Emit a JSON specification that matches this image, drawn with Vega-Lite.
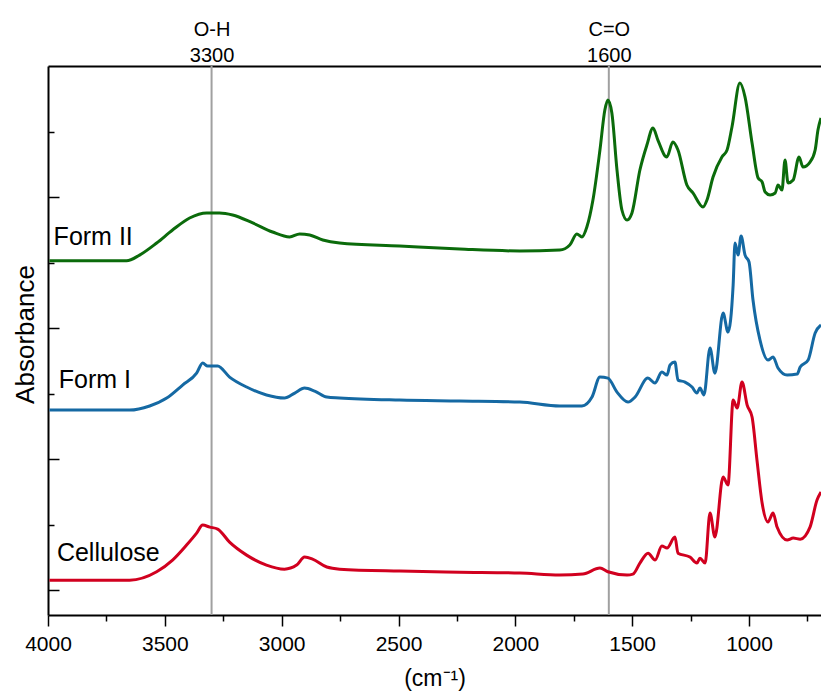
{
  "$schema": "https://vega.github.io/schema/vega-lite/v6.json",
  "width": 773,
  "height": 549,
  "autosize": "none",
  "padding": {"left": 48, "top": 66, "right": 0, "bottom": 76},
  "config": {
    "view": {"stroke": null},
    "font": "Liberation Sans",
    "axis": {"grid": false, "domainColor": "black", "domainWidth": 2, "tickColor": "black", "tickWidth": 1.5, "labelColor": "black", "titleColor": "black", "labelFont": "Liberation Sans", "titleFont": "Liberation Sans"}
  },
  "datasets": {
    "spectra": [
      {"wn": 3994, "a": 0.076, "s": "Cellulose"}, {"wn": 3800, "a": 0.076, "s": "Cellulose"}, {"wn": 3651, "a": 0.076, "s": "Cellulose"},
      {"wn": 3535, "a": 0.140, "s": "Cellulose"}, {"wn": 3467, "a": 0.229, "s": "Cellulose"}, {"wn": 3407, "a": 0.344, "s": "Cellulose"},
      {"wn": 3364, "a": 0.435, "s": "Cellulose"}, {"wn": 3338, "a": 0.496, "s": "Cellulose"}, {"wn": 3308, "a": 0.481, "s": "Cellulose"},
      {"wn": 3274, "a": 0.466, "s": "Cellulose"}, {"wn": 3223, "a": 0.366, "s": "Cellulose"}, {"wn": 3150, "a": 0.267, "s": "Cellulose"},
      {"wn": 3065, "a": 0.191, "s": "Cellulose"}, {"wn": 2988, "a": 0.160, "s": "Cellulose"}, {"wn": 2936, "a": 0.191, "s": "Cellulose"},
      {"wn": 2902, "a": 0.252, "s": "Cellulose"}, {"wn": 2868, "a": 0.237, "s": "Cellulose"}, {"wn": 2807, "a": 0.176, "s": "Cellulose"},
      {"wn": 2752, "a": 0.160, "s": "Cellulose"}, {"wn": 2495, "a": 0.145, "s": "Cellulose"}, {"wn": 2238, "a": 0.137, "s": "Cellulose"},
      {"wn": 1981, "a": 0.130, "s": "Cellulose"}, {"wn": 1810, "a": 0.115, "s": "Cellulose"}, {"wn": 1711, "a": 0.122, "s": "Cellulose"},
      {"wn": 1638, "a": 0.168, "s": "Cellulose"}, {"wn": 1604, "a": 0.140, "s": "Cellulose"}, {"wn": 1522, "a": 0.115, "s": "Cellulose"},
      {"wn": 1497, "a": 0.122, "s": "Cellulose"}, {"wn": 1467, "a": 0.206, "s": "Cellulose"}, {"wn": 1432, "a": 0.282, "s": "Cellulose"},
      {"wn": 1402, "a": 0.229, "s": "Cellulose"}, {"wn": 1373, "a": 0.336, "s": "Cellulose"}, {"wn": 1351, "a": 0.321, "s": "Cellulose"},
      {"wn": 1317, "a": 0.405, "s": "Cellulose"}, {"wn": 1304, "a": 0.282, "s": "Cellulose"}, {"wn": 1253, "a": 0.252, "s": "Cellulose"},
      {"wn": 1223, "a": 0.206, "s": "Cellulose"}, {"wn": 1210, "a": 0.244, "s": "Cellulose"}, {"wn": 1188, "a": 0.206, "s": "Cellulose"},
      {"wn": 1167, "a": 0.588, "s": "Cellulose"}, {"wn": 1146, "a": 0.405, "s": "Cellulose"}, {"wn": 1111, "a": 0.863, "s": "Cellulose"},
      {"wn": 1090, "a": 0.802, "s": "Cellulose"}, {"wn": 1068, "a": 1.450, "s": "Cellulose"}, {"wn": 1051, "a": 1.389, "s": "Cellulose"},
      {"wn": 1030, "a": 1.588, "s": "Cellulose"}, {"wn": 1008, "a": 1.412, "s": "Cellulose"}, {"wn": 987, "a": 1.321, "s": "Cellulose"},
      {"wn": 966, "a": 0.992, "s": "Cellulose"}, {"wn": 944, "a": 0.664, "s": "Cellulose"}, {"wn": 919, "a": 0.519, "s": "Cellulose"},
      {"wn": 897, "a": 0.588, "s": "Cellulose"}, {"wn": 880, "a": 0.481, "s": "Cellulose"}, {"wn": 837, "a": 0.382, "s": "Cellulose"},
      {"wn": 811, "a": 0.397, "s": "Cellulose"}, {"wn": 781, "a": 0.389, "s": "Cellulose"}, {"wn": 739, "a": 0.481, "s": "Cellulose"},
      {"wn": 709, "a": 0.687, "s": "Cellulose"}, {"wn": 692, "a": 0.748, "s": "Cellulose"},

      {"wn": 3994, "a": 1.374, "s": "Form I"}, {"wn": 3800, "a": 1.374, "s": "Form I"}, {"wn": 3651, "a": 1.374, "s": "Form I"},
      {"wn": 3565, "a": 1.405, "s": "Form I"}, {"wn": 3492, "a": 1.466, "s": "Form I"}, {"wn": 3424, "a": 1.565, "s": "Form I"},
      {"wn": 3364, "a": 1.656, "s": "Form I"}, {"wn": 3338, "a": 1.733, "s": "Form I"}, {"wn": 3317, "a": 1.710, "s": "Form I"},
      {"wn": 3274, "a": 1.710, "s": "Form I"}, {"wn": 3223, "a": 1.626, "s": "Form I"}, {"wn": 3150, "a": 1.550, "s": "Form I"},
      {"wn": 3065, "a": 1.489, "s": "Form I"}, {"wn": 2988, "a": 1.466, "s": "Form I"}, {"wn": 2944, "a": 1.504, "s": "Form I"},
      {"wn": 2902, "a": 1.542, "s": "Form I"}, {"wn": 2859, "a": 1.519, "s": "Form I"}, {"wn": 2807, "a": 1.473, "s": "Form I"},
      {"wn": 2752, "a": 1.466, "s": "Form I"}, {"wn": 2495, "a": 1.450, "s": "Form I"}, {"wn": 2238, "a": 1.443, "s": "Form I"},
      {"wn": 1981, "a": 1.435, "s": "Form I"}, {"wn": 1810, "a": 1.405, "s": "Form I"}, {"wn": 1715, "a": 1.405, "s": "Form I"},
      {"wn": 1672, "a": 1.473, "s": "Form I"}, {"wn": 1638, "a": 1.626, "s": "Form I"}, {"wn": 1604, "a": 1.618, "s": "Form I"},
      {"wn": 1565, "a": 1.511, "s": "Form I"}, {"wn": 1518, "a": 1.435, "s": "Form I"}, {"wn": 1488, "a": 1.473, "s": "Form I"},
      {"wn": 1433, "a": 1.618, "s": "Form I"}, {"wn": 1403, "a": 1.580, "s": "Form I"}, {"wn": 1373, "a": 1.664, "s": "Form I"},
      {"wn": 1351, "a": 1.641, "s": "Form I"}, {"wn": 1338, "a": 1.718, "s": "Form I"}, {"wn": 1317, "a": 1.740, "s": "Form I"},
      {"wn": 1304, "a": 1.603, "s": "Form I"}, {"wn": 1274, "a": 1.588, "s": "Form I"}, {"wn": 1244, "a": 1.550, "s": "Form I"},
      {"wn": 1223, "a": 1.504, "s": "Form I"}, {"wn": 1210, "a": 1.542, "s": "Form I"}, {"wn": 1193, "a": 1.489, "s": "Form I"},
      {"wn": 1167, "a": 1.847, "s": "Form I"}, {"wn": 1146, "a": 1.656, "s": "Form I"}, {"wn": 1111, "a": 2.115, "s": "Form I"},
      {"wn": 1090, "a": 1.969, "s": "Form I"}, {"wn": 1068, "a": 2.328, "s": "Form I"}, {"wn": 1060, "a": 2.649, "s": "Form I"},
      {"wn": 1047, "a": 2.557, "s": "Form I"}, {"wn": 1034, "a": 2.702, "s": "Form I"}, {"wn": 1017, "a": 2.557, "s": "Form I"},
      {"wn": 1000, "a": 2.504, "s": "Form I"}, {"wn": 983, "a": 2.214, "s": "Form I"}, {"wn": 953, "a": 1.908, "s": "Form I"},
      {"wn": 919, "a": 1.756, "s": "Form I"}, {"wn": 897, "a": 1.779, "s": "Form I"}, {"wn": 876, "a": 1.695, "s": "Form I"},
      {"wn": 837, "a": 1.641, "s": "Form I"}, {"wn": 794, "a": 1.649, "s": "Form I"}, {"wn": 781, "a": 1.702, "s": "Form I"},
      {"wn": 747, "a": 1.756, "s": "Form I"}, {"wn": 717, "a": 1.962, "s": "Form I"}, {"wn": 692, "a": 2.023, "s": "Form I"},

      {"wn": 3994, "a": 2.514, "s": "Form II"}, {"wn": 3800, "a": 2.514, "s": "Form II"}, {"wn": 3664, "a": 2.514, "s": "Form II"},
      {"wn": 3608, "a": 2.557, "s": "Form II"}, {"wn": 3535, "a": 2.649, "s": "Form II"}, {"wn": 3467, "a": 2.748, "s": "Form II"},
      {"wn": 3394, "a": 2.840, "s": "Form II"}, {"wn": 3321, "a": 2.878, "s": "Form II"}, {"wn": 3266, "a": 2.878, "s": "Form II"},
      {"wn": 3210, "a": 2.863, "s": "Form II"}, {"wn": 3124, "a": 2.802, "s": "Form II"}, {"wn": 3039, "a": 2.733, "s": "Form II"},
      {"wn": 2966, "a": 2.695, "s": "Form II"}, {"wn": 2923, "a": 2.718, "s": "Form II"}, {"wn": 2880, "a": 2.710, "s": "Form II"},
      {"wn": 2824, "a": 2.672, "s": "Form II"}, {"wn": 2752, "a": 2.649, "s": "Form II"}, {"wn": 2495, "a": 2.626, "s": "Form II"},
      {"wn": 2238, "a": 2.603, "s": "Form II"}, {"wn": 1981, "a": 2.588, "s": "Form II"}, {"wn": 1810, "a": 2.595, "s": "Form II"},
      {"wn": 1767, "a": 2.634, "s": "Form II"}, {"wn": 1737, "a": 2.718, "s": "Form II"}, {"wn": 1715, "a": 2.695, "s": "Form II"},
      {"wn": 1694, "a": 2.771, "s": "Form II"}, {"wn": 1668, "a": 2.977, "s": "Form II"}, {"wn": 1638, "a": 3.359, "s": "Form II"},
      {"wn": 1617, "a": 3.664, "s": "Form II"}, {"wn": 1604, "a": 3.740, "s": "Form II"}, {"wn": 1587, "a": 3.641, "s": "Form II"},
      {"wn": 1565, "a": 3.206, "s": "Form II"}, {"wn": 1544, "a": 2.901, "s": "Form II"}, {"wn": 1522, "a": 2.824, "s": "Form II"},
      {"wn": 1501, "a": 2.878, "s": "Form II"}, {"wn": 1467, "a": 3.206, "s": "Form II"}, {"wn": 1437, "a": 3.397, "s": "Form II"},
      {"wn": 1411, "a": 3.527, "s": "Form II"}, {"wn": 1390, "a": 3.435, "s": "Form II"}, {"wn": 1352, "a": 3.305, "s": "Form II"},
      {"wn": 1326, "a": 3.420, "s": "Form II"}, {"wn": 1304, "a": 3.359, "s": "Form II"}, {"wn": 1266, "a": 3.092, "s": "Form II"},
      {"wn": 1240, "a": 3.031, "s": "Form II"}, {"wn": 1197, "a": 2.924, "s": "Form II"}, {"wn": 1180, "a": 2.977, "s": "Form II"},
      {"wn": 1154, "a": 3.153, "s": "Form II"}, {"wn": 1116, "a": 3.305, "s": "Form II"}, {"wn": 1094, "a": 3.359, "s": "Form II"},
      {"wn": 1073, "a": 3.534, "s": "Form II"}, {"wn": 1039, "a": 3.870, "s": "Form II"}, {"wn": 1017, "a": 3.763, "s": "Form II"},
      {"wn": 987, "a": 3.412, "s": "Form II"}, {"wn": 961, "a": 3.145, "s": "Form II"}, {"wn": 944, "a": 3.115, "s": "Form II"},
      {"wn": 931, "a": 3.038, "s": "Form II"}, {"wn": 910, "a": 3.015, "s": "Form II"}, {"wn": 888, "a": 3.031, "s": "Form II"},
      {"wn": 876, "a": 3.092, "s": "Form II"}, {"wn": 859, "a": 3.053, "s": "Form II"}, {"wn": 846, "a": 3.282, "s": "Form II"},
      {"wn": 833, "a": 3.107, "s": "Form II"}, {"wn": 811, "a": 3.130, "s": "Form II"}, {"wn": 786, "a": 3.305, "s": "Form II"},
      {"wn": 769, "a": 3.229, "s": "Form II"}, {"wn": 739, "a": 3.267, "s": "Form II"}, {"wn": 717, "a": 3.359, "s": "Form II"},
      {"wn": 705, "a": 3.511, "s": "Form II"}, {"wn": 692, "a": 3.603, "s": "Form II"}
    ],
    "bands": [
      {"wn": 3300, "group": "O-H"},
      {"wn": 1600, "group": "C=O"}
    ],
    "names": [
      {"wn": 3976, "a": 2.634, "s": "Form II"},
      {"wn": 3954, "a": 1.542, "s": "Form I"},
      {"wn": 3962, "a": 0.221, "s": "Cellulose"}
    ]
  },
  "layer": [
    {
      "data": {"name": "bands"},
      "mark": {"type": "rule", "color": "#a0a0a0", "strokeWidth": 2},
      "encoding": {
        "x": {
          "field": "wn", "type": "quantitative",
          "scale": {"domain": [692, 4000], "reverse": true, "nice": false, "zero": false},
          "axis": {
            "orient": "top", "values": [3300, 1600], "ticks": false, "domain": true,
            "labelExpr": "datum.value == 3300 ? ['O-H', '3300'] : ['C=O', '1600']",
            "labelFontSize": 20, "labelLineHeight": 26, "labelPadding": 31, "labelBaseline": "alphabetic",
            "labelFlush": false, "labelOverlap": false, "title": null
          }
        }
      }
    },
    {
      "data": {"name": "spectra"},
      "mark": {"type": "line", "strokeWidth": 3, "strokeJoin": "round", "interpolate": "monotone"},
      "encoding": {
        "x": {
          "field": "wn", "type": "quantitative",
          "scale": {"domain": [692, 4000], "reverse": true, "nice": false, "zero": false},
          "axis": {
            "orient": "bottom",
            "values": [4000, 3750, 3500, 3250, 3000, 2750, 2500, 2250, 2000, 1750, 1500, 1250, 1000, 750],
            "format": "d",
            "labelExpr": "datum.value % 500 === 0 ? datum.label : ''",
            "tickSize": {"condition": {"test": "datum.value % 500 === 0", "value": 11}, "value": 6},
            "labelPadding": 7, "labelFontSize": 21, "labelFlush": false, "labelOverlap": false,
            "title": "(cm⁻¹)", "titleFontSize": 23, "titleFontWeight": "normal",
            "titleY": 70, "titleBaseline": "alphabetic"
          }
        },
        "y": {
          "field": "a", "type": "quantitative",
          "scale": {"domain": [-0.19, 4], "nice": false, "zero": false},
          "axis": {
            "orient": "left",
            "values": [0, 0.5, 1, 1.5, 2, 2.5, 3, 3.5],
            "labels": false,
            "tickSize": {"condition": {"test": "datum.value % 1 === 0", "value": -11}, "value": -6},
            "title": "Absorbance", "titleFontSize": 26, "titleFontWeight": "normal",
            "titleX": -15, "titleY": 268, "titleBaseline": "alphabetic", "titleAngle": -90
          }
        },
        "color": {
          "field": "s", "type": "nominal",
          "scale": {"domain": ["Form II", "Form I", "Cellulose"], "range": ["#0b6b0b", "#1569a3", "#d1001f"]},
          "legend": null
        }
      }
    },
    {
      "data": {"name": "names"},
      "mark": {"type": "text", "align": "left", "baseline": "alphabetic", "fontSize": 25, "font": "Liberation Sans", "color": "black"},
      "encoding": {
        "x": {"field": "wn", "type": "quantitative", "scale": {"domain": [692, 4000], "reverse": true, "nice": false, "zero": false}, "axis": null},
        "y": {"field": "a", "type": "quantitative", "scale": {"domain": [-0.19, 4], "nice": false, "zero": false}, "axis": null},
        "text": {"field": "s"}
      }
    }
  ],
  "resolve": {"axis": {"x": "independent", "y": "independent"}}
}
